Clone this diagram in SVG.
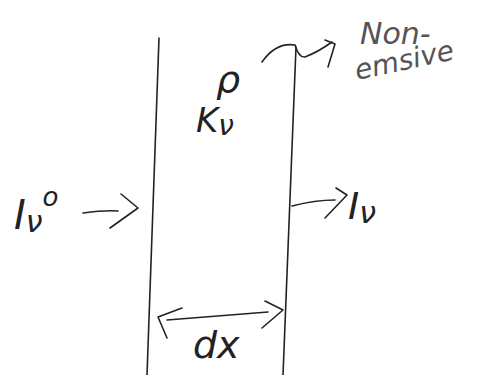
<svg xmlns="http://www.w3.org/2000/svg" width="488" height="375" viewBox="0 0 488 375">
<style>
.ln{fill:none;stroke:#222;stroke-width:1.6;stroke-linecap:round;stroke-linejoin:round}
.tx{font-family:"DejaVu Sans","Liberation Sans",sans-serif;font-style:italic;fill:#222}
.lt{font-family:"DejaVu Sans","Liberation Sans",sans-serif;font-style:italic;fill:#555;font-weight:300}
</style>
<rect width="488" height="375" fill="#fff"/>
<g id="slab">
<path class="ln" d="M159,38 L147,375"/>
<path class="ln" d="M296,47 L283,375"/>
</g>
<g id="connectors">
<path class="ln" d="M262,62 Q276,42 295,45 Q299,58 305,57 Q318,52 332,42"/>
<path class="ln" stroke-width="2.2" d="M325,40 L335,44 L328,67"/>
<path class="ln" d="M83,213 Q105,210 118,211"/>
<path class="ln" stroke-width="2.2" d="M121,194 L138,208 L110,228"/>
<path class="ln" d="M292,206 Q315,200 335,200"/>
<path class="ln" d="M336,188 L347,195 L325,218"/>
<path class="ln" d="M167,320 Q220,316 268,312"/>
<path class="ln" d="M182,308 L158,317 L167,338"/>
<path class="ln" d="M265,301 L283,310 L262,328"/>
</g>
<g id="labels">
<text class="tx" x="216" y="92" font-size="38" font-weight="300">ρ</text>
<text class="tx" x="196" y="132" font-size="34" font-weight="300">K<tspan font-size="28" dy="3">ν</tspan></text>
<text class="tx" x="14" y="229" font-size="40" font-weight="300">I<tspan font-size="30" dy="3">ν</tspan><tspan font-size="26" dy="-26">o</tspan></text>
<text class="tx" x="348" y="219" font-size="38" font-weight="300">I<tspan font-size="30" dy="4">ν</tspan></text>
<text class="tx" x="193" y="358" font-size="38" font-weight="300">dx</text>
<text class="lt" x="360" y="44" font-size="30">Non-</text>
<text class="lt" x="357" y="80" font-size="28" transform="rotate(-12 357 80)">emsive</text>
</g>
</svg>
